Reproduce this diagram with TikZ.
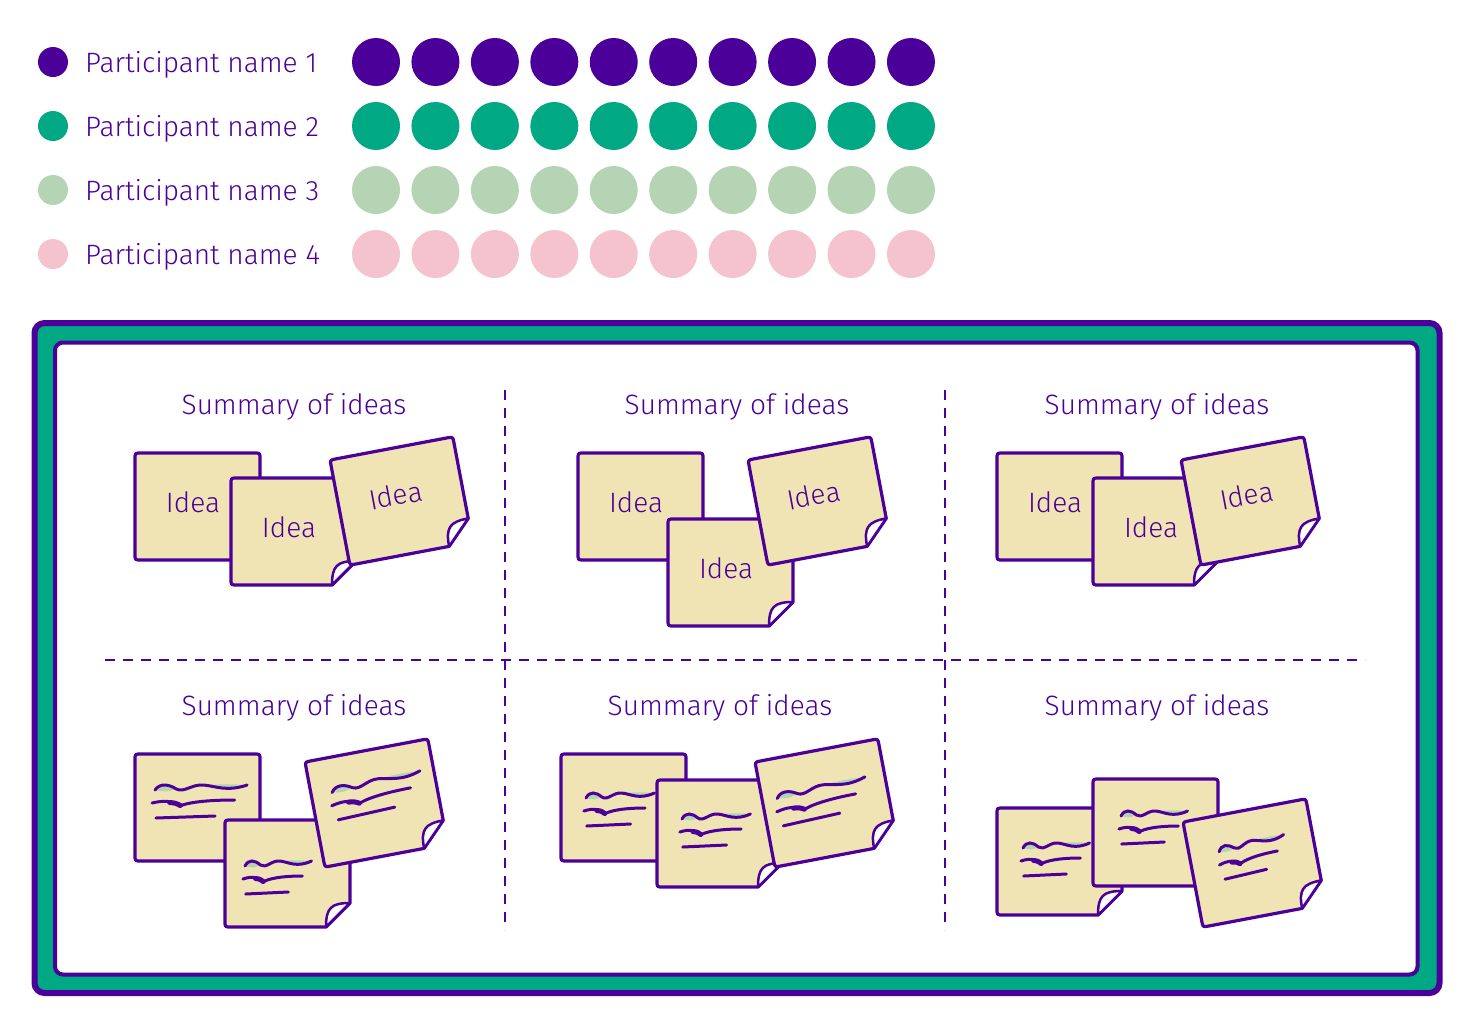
\documentclass[tikz,border=0pt]{standalone}
\usepackage{fontspec}
\setmainfont{Fira Sans}[UprightFont={* Light}]
\usepackage{tikz}
\usetikzlibrary{positioning}
\definecolor{ink}{HTML}{4A0099}
\definecolor{board}{HTML}{00A984}
\definecolor{sage}{HTML}{B4D4B4}
\definecolor{blush}{HTML}{F4C3CE}
\definecolor{paper}{HTML}{F1E4B4}
\tikzset{
    legenddot/.style = {circle, fill=#1, minimum size=30pt, inner sep=0pt},
    vote/.style = {circle, fill=#1, minimum size=48pt, inner sep=0pt},
    legendtext/.style = {text=ink, inner sep=0pt, font=\fontsize{28}{32}\selectfont},
    heading/.style = {text=ink, inner sep=0pt, font=\fontsize{28}{32}\selectfont},
    ideatext/.style = {text=ink, inner sep=0pt, font=\fontsize{28}{32}\selectfont},
    sheet/.style = {draw=ink, fill=paper, line width=3.2pt, line join=round},
    divider/.style = {draw=ink, line width=2pt, dash pattern=on 10pt off 8pt},
    scrib/.style = {draw=ink, line width=3pt, line cap=round},
    pics/plainnote/.style = {code = {
        \path[sheet] (0,6) .. controls (0,0) .. (6,0) -- (119,0) .. controls (125,0) .. (125,6)
            -- (125,101) .. controls (125,107) .. (119,107) -- (6,107) .. controls (0,107) .. (0,101) -- cycle;
    }},
    pics/curlnote/.style = {code = {
        \path[sheet] (0,6) .. controls (0,0) .. (6,0) -- (119,0) .. controls (125,0) .. (125,6)
            -- (125,83) -- (101,107) -- (6,107) .. controls (0,107) .. (0,101) -- cycle;
        \path[sheet, fill=white, line width=2.5pt] (125,83) .. controls (106,83) and (101,88) .. (101,107) -- cycle;
    }},
    pics/scribble/.style = {code = {
        \fill[sage] (0,0) .. controls (5,-7) and (14,-6) .. (22,-1) .. controls (12,2) .. (0,0);
        \fill[sage] (50,-5) .. controls (62,-4) and (74,2) .. (95,-5) .. controls (75,-6) .. (50,-5);
        \draw[scrib] (0,0) .. controls (5,-7) and (14,-6) .. (22,-1)
            .. controls (30,3) and (38,-6) .. (50,-5) .. controls (62,-4) and (74,2) .. (95,-5);
        \fill[sage] (20,14) .. controls (30,17) and (40,13) .. (50,13) -- cycle;
        \draw[scrib] (-3,13) .. controls (10,10) and (18,11) .. (26,16)
            .. controls (32,13) and (50,10) .. (82,10);
        \draw[scrib, line width=5pt] (15,12.5) .. controls (21,13) .. (26,15.5);
        \draw[scrib] (1,28) -- (62,26);
    }}
}
\begin{document}
\begin{tikzpicture}[x=1pt, y=-1pt]
    \useasboundingbox (0,0) rectangle (1481,1026);
    \foreach \c [count=\r] in {ink,board,sage,blush} {
        \node (dot\r) [legenddot=\c] at (53,{62+64*(\r-1)}) {};
        \node (name\r) [legendtext, anchor=base west] at (85,{72+64*(\r-1)}) {Participant name \r};
        \foreach \k in {1,...,10}
            \node (vote\r-\k) [vote=\c] at ({376+59.44*(\k-1)},{62+64*(\r-1)}) {};
    }

    \draw[ink, fill=board, line width=6pt, rounded corners=10pt] (34.5,323) rectangle (1439.5,993);
    \draw[ink, fill=white, line width=4pt, rounded corners=8pt] (55,342.5) rectangle (1417.5,974.5);

    \draw[divider] (505,390) -- (505,930);
    \draw[divider] (945,390) -- (945,930);
    \draw[divider] (105,660) -- (1365,660);

    \node (sum1) [heading, anchor=base] at (294,414) {Summary of ideas};
    \node (sum2) [heading, anchor=base] at (737,414) {Summary of ideas};
    \node (sum3) [heading, anchor=base] at (1157,414) {Summary of ideas};
    \node (sum4) [heading, anchor=base] at (294,715) {Summary of ideas};
    \node (sum5) [heading, anchor=base] at (720,715) {Summary of ideas};
    \node (sum6) [heading, anchor=base] at (1157,715) {Summary of ideas};

    \begin{scope}[shift={(135,453)}]
        \pic {plainnote};
        \node (ideaA) [ideatext, anchor=base] at (58,59) {Idea};
    \end{scope}
    \begin{scope}[shift={(231,478)}]
        \pic {curlnote};
        \node (ideaB) [ideatext, anchor=base] at (58,59) {Idea};
    \end{scope}
    \begin{scope}[shift={(330,460)}, rotate=10.7, transform shape]
        \pic {curlnote};
        \node (ideaC) [ideatext, anchor=base] at (58,57) {Idea};
    \end{scope}

    \begin{scope}[shift={(578,453)}]
        \pic {plainnote};
        \node (ideaD) [ideatext, anchor=base] at (58,59) {Idea};
    \end{scope}
    \begin{scope}[shift={(668,519)}]
        \pic {curlnote};
        \node (ideaE) [ideatext, anchor=base] at (58,59) {Idea};
    \end{scope}
    \begin{scope}[shift={(748,460)}, rotate=10.7, transform shape]
        \pic {curlnote};
        \node (ideaF) [ideatext, anchor=base] at (58,57) {Idea};
    \end{scope}

    \begin{scope}[shift={(997,453)}]
        \pic {plainnote};
        \node (ideaG) [ideatext, anchor=base] at (58,59) {Idea};
    \end{scope}
    \begin{scope}[shift={(1093,478)}]
        \pic {curlnote};
        \node (ideaH) [ideatext, anchor=base] at (58,59) {Idea};
    \end{scope}
    \begin{scope}[shift={(1181,460)}, rotate=10.7, transform shape]
        \pic {curlnote};
        \node (ideaI) [ideatext, anchor=base] at (58,57) {Idea};
    \end{scope}

    \begin{scope}[shift={(135,754)}]
        \pic {plainnote};
        \pic[xscale=0.97] at (20,36) {scribble};
    \end{scope}
    \begin{scope}[shift={(225,820)}]
        \pic {curlnote};
        \pic[xscale=0.7] at (20,46) {scribble};
    \end{scope}
    \begin{scope}[shift={(305,762)}, rotate=10.7, transform shape]
        \pic {curlnote};
        \pic[xscale=0.95] at (21,35) {scribble};
    \end{scope}

    \begin{scope}[shift={(561,754)}]
        \pic {plainnote};
        \pic[xscale=0.72] at (25,44) {scribble};
    \end{scope}
    \begin{scope}[shift={(657,780)}]
        \pic {curlnote};
        \pic[xscale=0.72] at (25,39) {scribble};
    \end{scope}
    \begin{scope}[shift={(755,762)}, rotate=10.7, transform shape]
        \pic {curlnote};
        \pic[xscale=0.95] at (15,40) {scribble};
    \end{scope}

    \begin{scope}[shift={(997,808)}]
        \pic {curlnote};
        \pic[xscale=0.7] at (26,40) {scribble};
    \end{scope}
    \begin{scope}[shift={(1093,779)}]
        \pic {plainnote};
        \pic[xscale=0.7] at (28,37) {scribble};
    \end{scope}
    \begin{scope}[shift={(1183,822)}, rotate=10.7, transform shape]
        \pic {curlnote};
        \pic[xscale=0.7] at (30,36) {scribble};
    \end{scope}
\end{tikzpicture}
\end{document}
